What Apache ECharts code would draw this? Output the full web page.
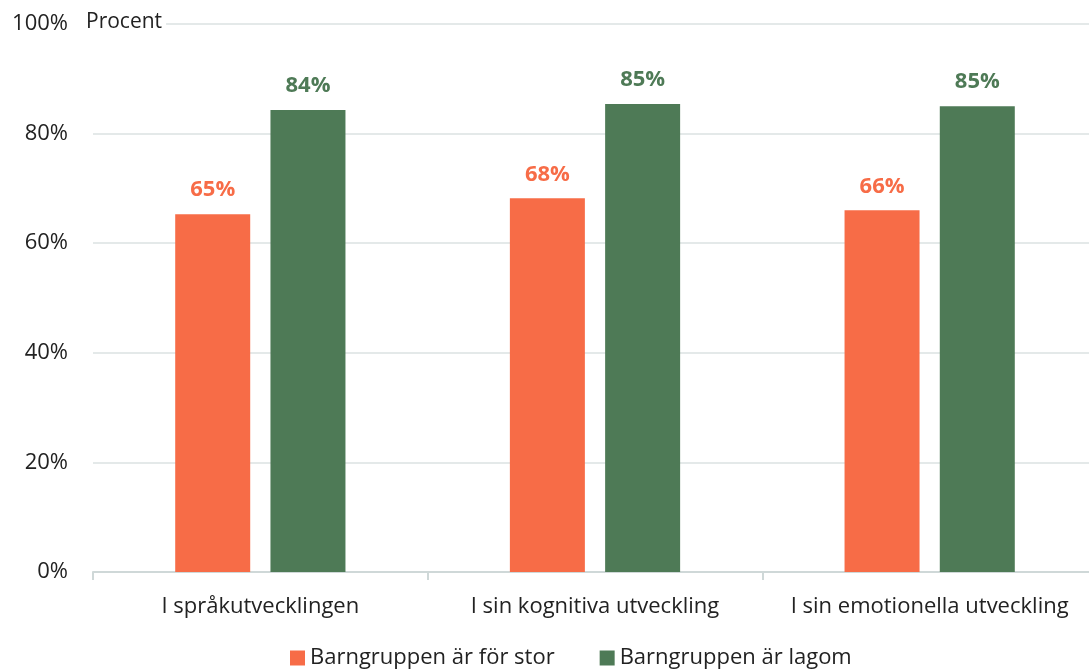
<!DOCTYPE html>
<html>
<head>
<meta charset="utf-8">
<script src="https://cdn.jsdelivr.net/npm/echarts@6/dist/echarts.min.js"></script>
<style>
  html, body { margin: 0; padding: 0; background: #fff; }
  #chart { width: 1089px; height: 670px; }
</style>
</head>
<body>
<div id="chart"></div>
<script>
const categories = ['I språkutvecklingen', 'I sin kognitiva utveckling', 'I sin emotionella utveckling']
const seriesNames = ['Barngruppen är för stor', 'Barngruppen är lagom']
const forStor = [65.3, 68.2, 66.0]
const lagom = [84.3, 85.4, 85.0]
const colors = ['#f76c47', '#4e7a56']

const font = '"Open Sans", "Noto Sans", sans-serif'
let myChart = echarts.init(document.getElementById('chart'))

function barSeries (name, data, color) {
  return {
    name: name,
    type: 'bar',
    barWidth: 75,
    barGap: '27%',
    itemStyle: { color: color },
    label: {
      show: true,
      position: 'top',
      distance: 13,
      color: color,
      fontFamily: font,
      fontWeight: 'bold',
      fontSize: 22,
      formatter: p => Math.round(p.value) + '%'
    },
    data: data
  }
}

let option = {
  animation: false,
  textStyle: { fontFamily: font },
  grid: { left: 93, width: 1004, top: 24, height: 548, containLabel: false, outerBoundsMode: 'none' },
  legend: {
    bottom: -4,
    left: 285,
    icon: 'rect',
    itemWidth: 15,
    itemHeight: 15,
    itemGap: 45,
    textStyle: { fontSize: 22, color: '#222', fontFamily: font },
    data: seriesNames
  },
  graphic: [{
    type: 'text',
    left: 84,
    top: 12,
    z: 100,
    style: {
      text: 'Procent',
      fontSize: 21,
      fill: '#222',
      fontFamily: font,
      backgroundColor: '#fff',
      padding: [0, 4, 0, 2]
    }
  }],
  xAxis: {
    type: 'category',
    data: categories,
    axisLine: { lineStyle: { color: '#cfd8d8', width: 2 } },
    axisTick: { show: true, length: 8, lineStyle: { color: '#cfd8d8', width: 2 } },
    axisLabel: { fontSize: 22, color: '#222', margin: 24, interval: 0, fontFamily: font }
  },
  yAxis: {
    type: 'value',
    min: 0,
    max: 100,
    interval: 20,
    axisLine: { show: false },
    axisTick: { show: false },
    splitLine: { lineStyle: { color: '#dbe2e2', width: 1.5 } },
    axisLabel: { fontSize: 22, color: '#222', margin: 25, formatter: '{value}%', fontFamily: font }
  },
  series: [
    barSeries(seriesNames[0], forStor, colors[0]),
    barSeries(seriesNames[1], lagom, colors[1])
  ]
}
myChart.setOption(option)
window.addEventListener('resize', function () {
  myChart.resize()
})
</script>
</body>
</html>
